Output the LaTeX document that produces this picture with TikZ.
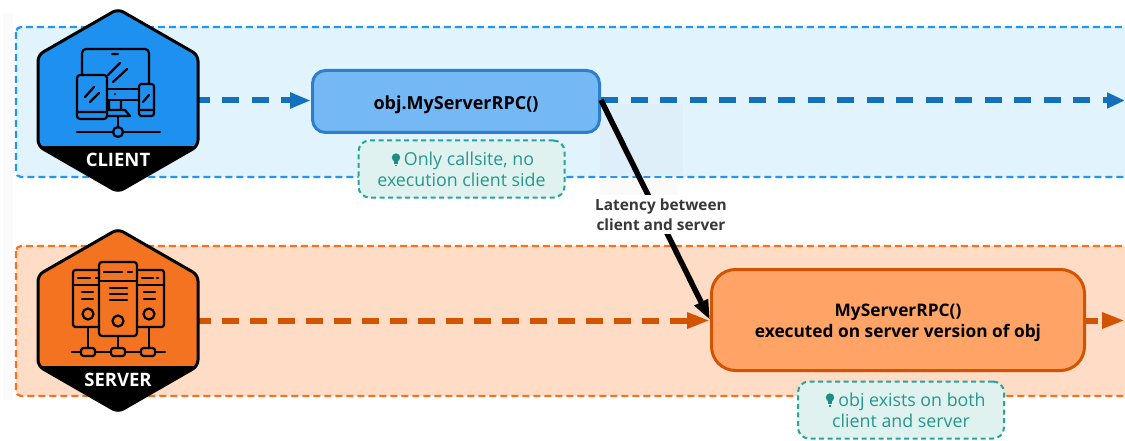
\documentclass[tikz,border=0pt]{standalone}
\usepackage{fontspec}
\setmainfont{Open Sans}
\usetikzlibrary{arrows.meta}
\definecolor{cband}{HTML}{E1F4FE}
\definecolor{cedge}{HTML}{2196F3}
\definecolor{sband}{HTML}{FEDCC6}
\definecolor{sedge}{HTML}{F47321}
\definecolor{cflow}{HTML}{1470BB}
\definecolor{sflow}{HTML}{D35400}
\definecolor{cbox}{HTML}{74B8F5}
\definecolor{cboxe}{HTML}{2D7FC9}
\definecolor{sbox}{HTML}{FFA366}
\definecolor{teal1}{HTML}{26A69A}
\definecolor{teal2}{HTML}{E0F2F0}
\definecolor{tealt}{HTML}{26978A}
\definecolor{chex}{HTML}{1E90F0}
\definecolor{patcha}{HTML}{DFEFF9}
\definecolor{patchb}{HTML}{FAFAFA}
\tikzset{
  x=1pt,y=-1pt,
  band/.style={line width=2.2pt,dash pattern=on 7pt off 4pt,rounded corners=5pt},
  flow/.style={line width=6pt,dash pattern=on 17pt off 12.5pt,dash phase=5.5pt,-{Triangle[length=21pt,width=15pt]}},
  flowtwo/.style={line width=6pt,dash pattern=on 17pt off 11pt,dash phase=4pt,-{Triangle[length=23pt,width=15pt]}},
  main/.style={line width=3pt,minimum height=0pt,align=center,text=black,inner sep=0pt,
     font=\fontsize{17.3}{21}\selectfont\bfseries},
  note/.style={draw=teal1,fill=teal2,line width=2pt,dash pattern=on 5pt off 3.5pt,rounded corners=11pt,
     align=center,text=tealt,inner sep=0pt,font=\fontsize{17.8}{21}\selectfont},
  icon/.style={line width=2.2pt,line cap=round,line join=round,draw=black},
  hexline/.style={draw=black,line width=3pt,rounded corners=6pt},
  hexlabel/.style={text=white,font=\fontsize{18.5}{20}\selectfont\bfseries,inner sep=0pt},
  latency/.style={fill=white,text=black!78,align=center,inner sep=0pt,minimum height=38pt,font=\fontsize{15.4}{20}\selectfont\bfseries},
  bulb/.pic={\fill (0,-2.5) circle (4.2pt); \fill (-2.2,1) rectangle (2.2,4); \fill (-1.4,5) rectangle (1.4,6.5);}
}
\begin{document}
\begin{tikzpicture}
\useasboundingbox (0,0) rectangle (1125,441);
\clip (0,0) rectangle (1125,441);
\fill[white] (0,0) rectangle (1125,441);
\fill[patchb] (3,14) rectangle (13,400);
% bands
\draw[band,draw=cedge,fill=cband] (16,27) rectangle (1140,177);
\draw[band,draw=sedge,fill=sband] (16,246) rectangle (1140,396);
% faint patches behind connector
\fill[patcha] (600,104) rectangle (683,176);
\fill[patchb] (600,178) rectangle (678,196);
% nodes
\node[main,draw=cboxe,fill=cbox,rounded corners=13pt,minimum width=287pt,minimum height=62pt] (callbox) at (456,101.5) {\rule{0pt}{21pt}{\fontsize{18}{21}\selectfont obj.MyServerRPC()}};
\node[main,draw=sflow,fill=sbox,rounded corners=24pt,minimum width=373pt,minimum height=101pt] (execbox) at (898,320) {\rule{0pt}{19pt}MyServerRPC()\\executed on server version of obj};
\node[note,minimum width=206pt,minimum height=57pt] (note1) at (461.5,169) {\hspace*{15pt}Only callsite, no\\execution client side};
\node[note,minimum width=206pt,minimum height=57pt] (note2) at (901,410) {\hspace*{22pt}obj exists on both\\client and server};
\pic[teal1!85!black] at (396,160) {bulb};
\pic[teal1!85!black] at (830,400) {bulb};
% connectors (drawn under the hexagons)
\coordinate (clientout) at (198,100.5);
\coordinate (serverout) at (198,320.5);
\coordinate (clientend) at (1125,100.5);
\coordinate (serverend) at (1125,320.5);
\draw[flow,draw=cflow] (clientout) -- (callbox.west |- clientout);
\draw[flow,draw=cflow,dash phase=0pt,-{Triangle[length=18pt,width=15pt]}] (callbox.east |- clientout) -- (clientend);
\draw[flowtwo,draw=sflow] (serverout) -- (execbox.west |- serverout);
\draw[flowtwo,draw=sflow,dash phase=5pt] (execbox.east |- serverout) -- (serverend);
\draw[black,line width=5.5pt,-{Triangle[length=20pt,width=14pt]}] (callbox.east |- 0,100) -- (execbox.west |- 0,320);
\node[latency] (lat) at (661,214.5) {Latency between\\client and server};
% client hexagon
\fill[chex,rounded corners=6pt] (118,9)--(198,55)--(198,146)--(118,192)--(38,146)--(38,55)--cycle;
\begin{scope}
\clip[rounded corners=6pt] (118,9)--(198,55)--(198,146)--(118,192)--(38,146)--(38,55)--cycle;
\fill[black] (30,146) rectangle (205,200);
\end{scope}
\draw[hexline] (118,9)--(198,55)--(198,146)--(118,192)--(38,146)--(38,55)--cycle;
\node[hexlabel] (clientlabel) at (118,160) {CLIENT};
% client icon
\draw[icon,rounded corners=4pt] (82,75)--(82,49)--(149,49)--(149,84);
\draw[icon] (112,54)--(118,54) (108,75)--(120,63) (113,82)--(127,69);
\draw[icon,rounded corners=3pt] (77,75) rectangle (107,119);
\draw[icon] (77,112)--(107,112) (85,97)--(94,87) (90,102)--(99,93);
\draw[icon,rounded corners=2.5pt] (139,84) rectangle (154,116);
\draw[icon] (139,110)--(154,110) (143,102)--(149,95);
\draw[icon] (107,89)--(139,89) (107,100)--(139,100);
\fill (115,94) circle (1.2pt);
\draw[icon] (109,100)--(109,110) (121,100)--(121,110) (107,110)--(125,110)--(130,116)--(107,116);
\draw[icon] (118,116)--(118,127) (77,132)--(113,132) (123,132)--(160,132);
\draw[icon] (118,132) circle (5pt);
% server hexagon
\fill[sedge,rounded corners=6pt] (118,229)--(198,275)--(198,366)--(118,412)--(38,366)--(38,275)--cycle;
\begin{scope}
\clip[rounded corners=6pt] (118,229)--(198,275)--(198,366)--(118,412)--(38,366)--(38,275)--cycle;
\fill[black] (30,366) rectangle (205,420);
\end{scope}
\draw[hexline] (118,229)--(198,275)--(198,366)--(118,412)--(38,366)--(38,275)--cycle;
\node[hexlabel] (serverlabel) at (118,380) {SERVER};
% server icon
\draw[icon,rounded corners=2.5pt] (99,270)--(73,270)--(73,327)--(99,327);
\draw[icon,rounded corners=2.5pt] (137,270)--(164,270)--(164,327)--(137,327);
\draw[icon,rounded corners=3pt] (99,262) rectangle (137,336);
\draw[icon] (73,285)--(99,285) (137,285)--(164,285) (99,281)--(137,281);
\draw[icon] (78,278)--(90,278) (96,278)--(97,278) (142,278)--(153,278) (157,278)--(158,278);
\draw[icon] (104,272)--(122,272) (128,272)--(132,272);
\draw[icon] (82,292)--(93,292) (82,299)--(93,299) (144,292)--(155,292) (144,299)--(155,299);
\draw[icon] (110,288)--(127,288) (110,294)--(127,294) (110,300)--(127,300);
\draw[icon] (88,314) circle (5.5pt) (118,321) circle (5.5pt) (149,314) circle (5.5pt);
\draw[icon] (88,327)--(88,348) (118,336)--(118,348) (149,327)--(149,348);
\draw[icon] (72,352)--(81,352) (95,352)--(111,352) (125,352)--(141,352) (155,352)--(165,352);
\draw[icon,rounded corners=2.5pt] (81,348) rectangle (95,356) (111,348) rectangle (125,356) (141,348) rectangle (155,356);
\end{tikzpicture}
\end{document}
